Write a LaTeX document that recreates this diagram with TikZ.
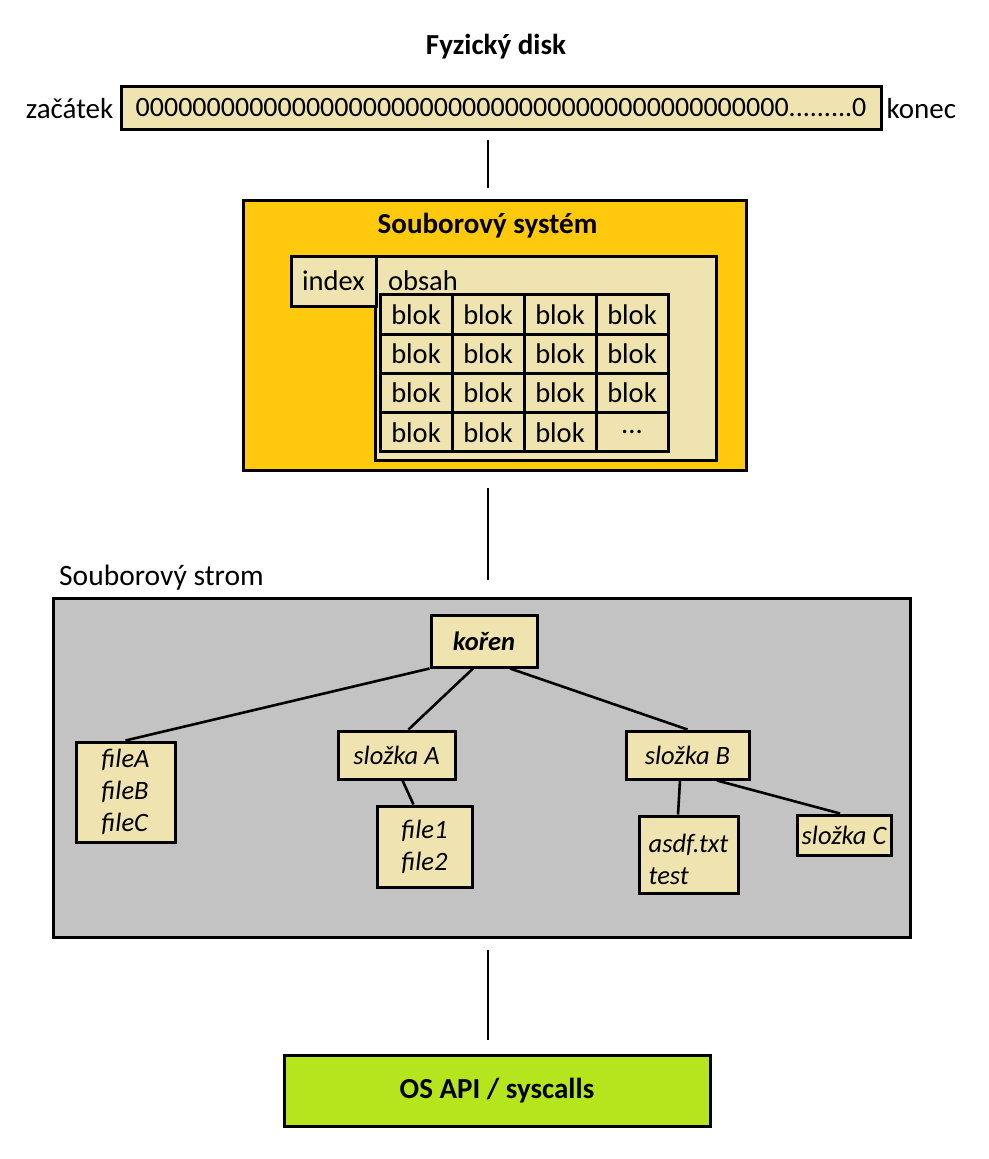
\documentclass[tikz,border=0pt]{standalone}
\usepackage{fontspec}
\setmainfont{Carlito}
\definecolor{beige}{HTML}{EFE4B0}
\definecolor{gold}{HTML}{FFC90E}
\definecolor{treegray}{HTML}{C3C3C3}
\definecolor{lime}{HTML}{B5E61D}
\begin{document}
\begin{tikzpicture}[x=1pt,y=-1pt,
  every node/.style={font=\fontsize{28.5}{32}\selectfont, inner sep=0pt},
  box/.style={draw, line width=3pt, fill=beige},
  cell/.style={box, minimum width=72pt, minimum height=39.3pt},
  tnode/.style={box, font=\fontsize{26.5}{32}\selectfont\itshape, align=left},
  conn/.style={line width=2.6pt},
  ttl/.style={font=\fontsize{29}{32}\selectfont\bfseries}]
\useasboundingbox (0,0) rectangle (988,1159);

% Physical disk
\node[ttl] (t1) at (496,47) {Fyzický disk};
\node[box, minimum width=760pt, minimum height=43pt, font=\fontsize{28}{32}\selectfont] (disk) at (501,107.5)
  {0000000000000000000000000000000000000000000000.........0};
\node[anchor=east, font=\fontsize{29}{32}\selectfont] (zac) at ([xshift=-6pt,yshift=-1pt]disk.west) {začátek};
\node[anchor=west, font=\fontsize{29}{32}\selectfont] (kon) at ([xshift=4pt,yshift=-1pt]disk.east) {konec};
\coordinate (l1a) at (488,140);
\coordinate (l1b) at (488,188);
\draw[conn] (l1a) -- (l1b);

% File system
\node[draw, line width=3pt, fill=gold, minimum width=503pt, minimum height=270pt] (fs) at (494.5,335) {};
\node[ttl] (fst) at (487.5,226) {Souborový systém};
\node[box, minimum width=341pt, minimum height=204pt] (obsah) at (545.5,358) {};
\node[box, minimum width=85pt, minimum height=50pt] (index) at (333.5,281) {index};
\node[anchor=west] (obsahl) at (388,281) {obsah};
\foreach \j in {0,1,2,3}{
  \foreach \i in {0,1,2,3}{
    \pgfmathsetmacro{\cx}{416+72*\i}
    \pgfmathsetmacro{\cy}{314.6+39.2*\j}
    \ifnum\j=3 \ifnum\i=3
      \node[cell] (c\i\j) at (\cx,\cy) {...};
    \else
      \node[cell] (c\i\j) at (\cx,\cy) {blok};
    \fi
    \else
      \node[cell] (c\i\j) at (\cx,\cy) {blok};
    \fi
  }
}
\coordinate (l2a) at (488,488);
\coordinate (l2b) at (488,580);
\draw[conn] (l2a) -- (l2b);

% File tree
\node[anchor=west, font=\fontsize{29.5}{32}\selectfont] (strom) at (59,578) {Souborový strom};
\node[draw, line width=3pt, fill=treegray, minimum width=857pt, minimum height=339pt] (tree) at (481.5,767.5) {};
\node[box, minimum width=106pt, minimum height=52pt, font=\fontsize{26.5}{32}\selectfont\bfseries\itshape] (koren) at (484,641) {kořen};
\node[tnode, minimum width=99pt, minimum height=100pt] (files) at (125.5,792) {fileA\\fileB\\fileC};
\node[tnode, minimum width=117pt, minimum height=48pt] (sa) at (396.5,755) {složka A};
\node[tnode, minimum width=95pt, minimum height=81pt] (f12) at (424.5,846.5) {file1\\file2};
\node[tnode, minimum width=123pt, minimum height=48pt] (sb) at (687.5,755) {složka B};
\node[box, minimum width=99pt, minimum height=77pt] (asdf) at (688.5,854.5) {};
\node[font=\fontsize{26.5}{32}\selectfont\itshape, align=left] (asdft) at ([yshift=-5pt]asdf.center) {asdf.txt\\test};
\node[tnode, minimum width=94pt, minimum height=40pt] (sc) at (844,835) {složka C};

\draw[conn] (koren.south west) -- (files.north);
\draw[conn] ([xshift=-11pt]koren.south) -- ([xshift=12pt]sa.north);
\draw[conn] ([xshift=6pt]sa.south) -- ([xshift=-11pt]f12.north);
\draw[conn] ([xshift=26pt]koren.south) -- (sb.north);
\draw[conn] ([xshift=-7.5pt]sb.south) -- ([xshift=-10.5pt]asdf.north);
\draw[conn] ([xshift=29.5pt]sb.south) -- ([xshift=-4pt]sc.north);

\coordinate (l3a) at (488,950);
\coordinate (l3b) at (488,1040);
\draw[conn] (l3a) -- (l3b);

% OS API
\node[draw, line width=3pt, fill=lime, minimum width=426pt, minimum height=71pt, ttl] (os) at (497,1090.5) {OS API / syscalls};
\end{tikzpicture}
\end{document}
